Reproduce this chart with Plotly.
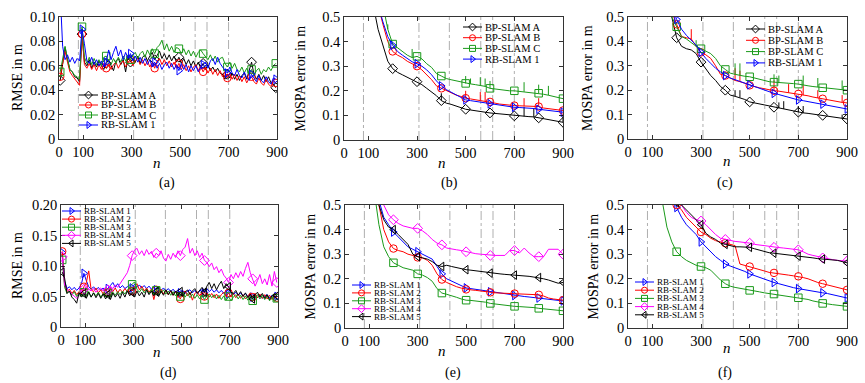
import plotly.graph_objects as go

W, H = 865, 383
SERIF = "Liberation Serif"

# ---------------- data ----------------
n_rmse = list(range(5, 900, 10))          # time steps for RMSE curves
n_mospa = list(range(100, 901, 20))       # time steps for MOSPA curves
event_n = [80, 308, 433, 562, 611, 700]   # dash-dot event markers
x_ticks = [0, 100, 300, 500, 700, 900]

# (a) RMSE
a_bp_a = [0.048, 0.061, 0.075, 0.065, 0.057, 0.055, 0.051, 0.050, 0.047, 0.086,
          0.063, 0.060, 0.065, 0.058, 0.063, 0.059, 0.064, 0.060, 0.057, 0.062,
          0.065, 0.060, 0.056, 0.064, 0.066, 0.061, 0.065, 0.055, 0.067, 0.063,
          0.066, 0.063, 0.068, 0.062, 0.067, 0.069, 0.064, 0.068, 0.071, 0.065,
          0.069, 0.072, 0.066, 0.070, 0.065, 0.069, 0.064, 0.068, 0.063, 0.067,
          0.062, 0.066, 0.061, 0.065, 0.060, 0.064, 0.059, 0.063, 0.058, 0.062,
          0.057, 0.061, 0.056, 0.059, 0.055, 0.058, 0.054, 0.053, 0.049, 0.053,
          0.050, 0.054, 0.049, 0.053, 0.048, 0.052, 0.054, 0.049, 0.056, 0.063,
          0.053, 0.049, 0.053, 0.048, 0.052, 0.047, 0.051, 0.046, 0.045, 0.042]
a_bp_b = [0.051, 0.063, 0.072, 0.063, 0.055, 0.052, 0.049, 0.047, 0.044, 0.086,
          0.061, 0.058, 0.062, 0.057, 0.061, 0.056, 0.061, 0.057, 0.062, 0.058,
          0.062, 0.057, 0.061, 0.063, 0.058, 0.062, 0.064, 0.059, 0.063, 0.065,
          0.060, 0.064, 0.066, 0.061, 0.065, 0.060, 0.064, 0.059, 0.063, 0.058,
          0.064, 0.066, 0.061, 0.065, 0.060, 0.064, 0.059, 0.063, 0.058, 0.062,
          0.057, 0.061, 0.056, 0.060, 0.055, 0.059, 0.061, 0.056, 0.060, 0.055,
          0.059, 0.054, 0.058, 0.053, 0.057, 0.052, 0.056, 0.051, 0.055, 0.050,
          0.054, 0.049, 0.053, 0.048, 0.052, 0.047, 0.051, 0.046, 0.050, 0.051,
          0.047, 0.045, 0.050, 0.046, 0.044, 0.049, 0.045, 0.043, 0.048, 0.046]
a_bp_c = [0.055, 0.065, 0.076, 0.066, 0.057, 0.055, 0.052, 0.051, 0.049, 0.092,
          0.067, 0.062, 0.067, 0.061, 0.066, 0.061, 0.065, 0.060, 0.067, 0.068,
          0.063, 0.061, 0.066, 0.062, 0.067, 0.063, 0.068, 0.064, 0.069, 0.065,
          0.069, 0.071, 0.066, 0.070, 0.072, 0.067, 0.073, 0.069, 0.074, 0.070,
          0.075, 0.077, 0.081, 0.073, 0.078, 0.072, 0.076, 0.071, 0.075, 0.074,
          0.070, 0.074, 0.069, 0.073, 0.068, 0.072, 0.067, 0.071, 0.073, 0.070,
          0.067, 0.065, 0.069, 0.064, 0.068, 0.063, 0.066, 0.067, 0.062, 0.059,
          0.063, 0.058, 0.062, 0.057, 0.055, 0.059, 0.054, 0.058, 0.053, 0.057,
          0.052, 0.056, 0.058, 0.053, 0.057, 0.055, 0.059, 0.056, 0.060, 0.062]
a_rb_1 = [0.120, 0.076, 0.065, 0.069, 0.063, 0.067, 0.062, 0.066, 0.064, 0.090,
          0.078, 0.064, 0.062, 0.067, 0.061, 0.065, 0.060, 0.064, 0.059, 0.063,
          0.073, 0.065, 0.071, 0.076, 0.068, 0.073, 0.065, 0.071, 0.066, 0.070,
          0.064, 0.068, 0.063, 0.067, 0.062, 0.066, 0.061, 0.065, 0.059, 0.063,
          0.058, 0.062, 0.057, 0.061, 0.063, 0.058, 0.062, 0.057, 0.061, 0.056,
          0.062, 0.057, 0.061, 0.055, 0.060, 0.056, 0.060, 0.055, 0.059, 0.061,
          0.063, 0.058, 0.064, 0.066, 0.061, 0.067, 0.062, 0.059, 0.056, 0.054,
          0.059, 0.054, 0.052, 0.057, 0.052, 0.050, 0.055, 0.050, 0.048, 0.053,
          0.050, 0.047, 0.052, 0.048, 0.046, 0.051, 0.047, 0.045, 0.050, 0.049]

# (d) RMSE
d_rb_1 = [0.122, 0.075, 0.063, 0.066, 0.061, 0.065, 0.060, 0.064, 0.071, 0.088,
          0.076, 0.066, 0.062, 0.066, 0.061, 0.065, 0.060, 0.064, 0.059, 0.063,
          0.068, 0.073, 0.065, 0.071, 0.064, 0.068, 0.063, 0.066, 0.069, 0.064,
          0.070, 0.065, 0.069, 0.064, 0.068, 0.063, 0.067, 0.062, 0.066, 0.061,
          0.065, 0.060, 0.064, 0.059, 0.063, 0.058, 0.062, 0.057, 0.061, 0.056,
          0.060, 0.055, 0.059, 0.061, 0.056, 0.060, 0.055, 0.059, 0.061, 0.056,
          0.063, 0.058, 0.062, 0.057, 0.061, 0.056, 0.060, 0.055, 0.059, 0.054,
          0.058, 0.053, 0.057, 0.052, 0.056, 0.051, 0.055, 0.050, 0.054, 0.049,
          0.053, 0.048, 0.052, 0.047, 0.051, 0.053, 0.048, 0.052, 0.047, 0.050]
d_rb_2 = [0.124, 0.070, 0.058, 0.062, 0.055, 0.060, 0.053, 0.058, 0.054, 0.066,
          0.073, 0.092, 0.061, 0.058, 0.064, 0.056, 0.061, 0.054, 0.062, 0.057,
          0.063, 0.058, 0.064, 0.056, 0.062, 0.057, 0.063, 0.058, 0.064, 0.059,
          0.066, 0.071, 0.061, 0.067, 0.059, 0.064, 0.057, 0.062, 0.045, 0.061,
          0.056, 0.062, 0.054, 0.060, 0.053, 0.059, 0.052, 0.058, 0.051, 0.046,
          0.056, 0.059, 0.051, 0.057, 0.044, 0.055, 0.058, 0.051, 0.057, 0.050,
          0.056, 0.049, 0.055, 0.048, 0.054, 0.047, 0.053, 0.057, 0.050, 0.056,
          0.049, 0.055, 0.048, 0.054, 0.047, 0.053, 0.046, 0.052, 0.056, 0.049,
          0.055, 0.048, 0.054, 0.047, 0.053, 0.046, 0.052, 0.045, 0.051, 0.048]
d_rb_3 = [0.110, 0.065, 0.055, 0.059, 0.052, 0.058, 0.050, 0.056, 0.051, 0.057,
          0.052, 0.058, 0.049, 0.056, 0.051, 0.057, 0.049, 0.055, 0.050, 0.056,
          0.051, 0.057, 0.052, 0.058, 0.053, 0.059, 0.054, 0.061, 0.066, 0.070,
          0.074, 0.062, 0.057, 0.063, 0.056, 0.062, 0.055, 0.061, 0.054, 0.060,
          0.066, 0.056, 0.061, 0.054, 0.059, 0.052, 0.058, 0.051, 0.057, 0.050,
          0.056, 0.049, 0.055, 0.048, 0.054, 0.047, 0.053, 0.046, 0.052, 0.045,
          0.051, 0.054, 0.048, 0.053, 0.046, 0.052, 0.045, 0.051, 0.044, 0.050,
          0.043, 0.049, 0.053, 0.046, 0.052, 0.045, 0.051, 0.044, 0.050, 0.043,
          0.049, 0.053, 0.046, 0.052, 0.045, 0.051, 0.043, 0.049, 0.042, 0.047]
d_rb_4 = [0.115, 0.068, 0.062, 0.059, 0.054, 0.050, 0.047, 0.053, 0.060, 0.062,
          0.066, 0.062, 0.059, 0.063, 0.057, 0.061, 0.064, 0.059, 0.065, 0.061,
          0.067, 0.063, 0.069, 0.065, 0.071, 0.076, 0.081, 0.089, 0.101, 0.117,
          0.126, 0.129, 0.119, 0.125, 0.117, 0.127, 0.119, 0.124, 0.114, 0.121,
          0.117, 0.125, 0.113, 0.108, 0.119, 0.111, 0.121, 0.114, 0.125, 0.117,
          0.127, 0.131, 0.145, 0.121, 0.129, 0.117, 0.125, 0.114, 0.121, 0.109,
          0.106, 0.099, 0.105, 0.094, 0.099, 0.089, 0.095, 0.085, 0.080, 0.073,
          0.086, 0.079, 0.089, 0.081, 0.091, 0.083, 0.096, 0.106, 0.089, 0.079,
          0.067, 0.076, 0.086, 0.071, 0.079, 0.069, 0.086, 0.067, 0.091, 0.073]
d_rb_5 = [0.090, 0.080, 0.055, 0.059, 0.049, 0.045, 0.039, 0.056, 0.049, 0.055,
          0.047, 0.057, 0.049, 0.056, 0.048, 0.055, 0.047, 0.054, 0.046, 0.053,
          0.045, 0.056, 0.049, 0.055, 0.047, 0.057, 0.049, 0.059, 0.051, 0.057,
          0.049, 0.059, 0.051, 0.057, 0.049, 0.061, 0.053, 0.059, 0.051, 0.058,
          0.050, 0.059, 0.052, 0.061, 0.053, 0.060, 0.052, 0.059, 0.051, 0.058,
          0.050, 0.057, 0.061, 0.053, 0.059, 0.063, 0.055, 0.061, 0.065, 0.057,
          0.067, 0.073, 0.063, 0.071, 0.061, 0.069, 0.075, 0.063, 0.071, 0.066,
          0.057, 0.055, 0.060, 0.052, 0.058, 0.050, 0.056, 0.048, 0.054, 0.046,
          0.053, 0.057, 0.049, 0.055, 0.047, 0.053, 0.045, 0.051, 0.055, 0.051]

# (b) MOSPA
b_bp_a = [0.70, 0.55, 0.45, 0.38, 0.32, 0.29, 0.275, 0.265, 0.255, 0.245,
          0.237, 0.225, 0.21, 0.195, 0.18, 0.16, 0.15, 0.145, 0.138, 0.13,
          0.125, 0.122, 0.12, 0.117, 0.113, 0.11, 0.108, 0.105, 0.102, 0.10,
          0.098, 0.097, 0.096, 0.095, 0.094, 0.09, 0.087, 0.083, 0.079, 0.075,
          0.072]
b_bp_b = [0.85, 0.68, 0.55, 0.47, 0.40, 0.36, 0.345, 0.335, 0.32, 0.31,
          0.30, 0.285, 0.265, 0.245, 0.22, 0.21, 0.20, 0.19, 0.183, 0.177,
          0.17, 0.167, 0.164, 0.162, 0.158, 0.155, 0.15, 0.146, 0.143, 0.141,
          0.14, 0.139, 0.138, 0.137, 0.137, 0.136, 0.13, 0.127, 0.124, 0.121,
          0.12]
b_bp_c = [0.95, 0.80, 0.66, 0.55, 0.45, 0.39, 0.375, 0.36, 0.345, 0.335,
          0.34, 0.33, 0.31, 0.295, 0.27, 0.26, 0.25, 0.245, 0.24, 0.235,
          0.23, 0.228, 0.225, 0.222, 0.218, 0.21, 0.207, 0.205, 0.203, 0.20,
          0.20, 0.198, 0.196, 0.194, 0.193, 0.19, 0.186, 0.182, 0.178, 0.172,
          0.168]
b_rb_1 = [0.85, 0.68, 0.55, 0.48, 0.42, 0.385, 0.36, 0.345, 0.33, 0.318,
          0.31, 0.30, 0.285, 0.265, 0.24, 0.22, 0.205, 0.195, 0.183, 0.172,
          0.163, 0.16, 0.157, 0.154, 0.15, 0.147, 0.143, 0.14, 0.137, 0.135,
          0.133, 0.132, 0.131, 0.13, 0.128, 0.125, 0.122, 0.12, 0.117, 0.115,
          0.113]
b_spike_a_n, b_spike_a_top = [400, 740, 780, 900], [0.19, 0.135, 0.13, 0.10]
b_spike_b_n, b_spike_b_top = [500, 560, 580, 740, 800], [0.20, 0.195, 0.195, 0.17, 0.17]
b_spike_c_n = [180, 280, 500, 520, 560, 580, 600, 740, 800, 840]
b_spike_c_top = [0.47, 0.37, 0.26, 0.25, 0.255, 0.25, 0.24, 0.235, 0.225, 0.22]

# (c) MOSPA
c_bp_a = [0.90, 0.80, 0.70, 0.58, 0.50, 0.415, 0.38, 0.37, 0.365, 0.35,
          0.315, 0.285, 0.26, 0.24, 0.215, 0.20, 0.18, 0.175, 0.17, 0.162,
          0.152, 0.148, 0.143, 0.14, 0.135, 0.13, 0.127, 0.123, 0.12, 0.115,
          0.11, 0.107, 0.105, 0.102, 0.10, 0.097, 0.095, 0.092, 0.088, 0.085,
          0.082]
c_bp_b = [0.95, 0.85, 0.75, 0.62, 0.52, 0.47, 0.42, 0.415, 0.41, 0.38,
          0.355, 0.345, 0.33, 0.30, 0.265, 0.26, 0.25, 0.24, 0.235, 0.228,
          0.22, 0.215, 0.21, 0.205, 0.20, 0.198, 0.196, 0.193, 0.19, 0.188,
          0.185, 0.18, 0.177, 0.172, 0.168, 0.165, 0.16, 0.157, 0.153, 0.15,
          0.148]
c_bp_c = [0.95, 0.85, 0.75, 0.62, 0.50, 0.46, 0.42, 0.41, 0.395, 0.38,
          0.37, 0.36, 0.35, 0.33, 0.30, 0.285, 0.27, 0.265, 0.26, 0.257,
          0.255, 0.25, 0.245, 0.238, 0.235, 0.233, 0.232, 0.23, 0.228, 0.227,
          0.225, 0.22, 0.218, 0.215, 0.213, 0.21, 0.21, 0.208, 0.205, 0.203,
          0.20]
c_rb_1 = [0.95, 0.85, 0.75, 0.65, 0.55, 0.49, 0.45, 0.425, 0.405, 0.385,
          0.355, 0.33, 0.31, 0.29, 0.275, 0.26, 0.25, 0.243, 0.237, 0.23,
          0.222, 0.215, 0.207, 0.20, 0.192, 0.187, 0.182, 0.176, 0.17, 0.165,
          0.16, 0.157, 0.153, 0.15, 0.147, 0.143, 0.139, 0.135, 0.131, 0.127,
          0.123]
c_spike_a_n, c_spike_a_top = [440, 460, 620, 640, 700, 720, 880], [0.20, 0.20, 0.15, 0.155, 0.135, 0.135, 0.10]
c_spike_b_n = [260, 440, 460, 600, 660, 720, 780, 880]
c_spike_b_top = [0.45, 0.29, 0.28, 0.24, 0.225, 0.22, 0.20, 0.18]
c_spike_c_n = [280, 440, 460, 600, 620, 720, 780, 880]
c_spike_c_top = [0.405, 0.31, 0.31, 0.265, 0.26, 0.26, 0.25, 0.24]

# (e) MOSPA
e_rb_1 = [0.80, 0.62, 0.52, 0.45, 0.42, 0.39, 0.37, 0.35, 0.33, 0.32,
          0.31, 0.30, 0.29, 0.28, 0.25, 0.22, 0.20, 0.19, 0.18, 0.17,
          0.163, 0.16, 0.157, 0.153, 0.15, 0.147, 0.143, 0.14, 0.138, 0.135,
          0.132, 0.13, 0.128, 0.126, 0.124, 0.122, 0.12, 0.118, 0.115, 0.113,
          0.11]
e_rb_2 = [0.80, 0.62, 0.50, 0.40, 0.35, 0.323, 0.315, 0.31, 0.30, 0.295,
          0.287, 0.285, 0.275, 0.255, 0.22, 0.197, 0.185, 0.175, 0.168, 0.162,
          0.157, 0.155, 0.153, 0.15, 0.148, 0.145, 0.143, 0.142, 0.141, 0.14,
          0.14, 0.139, 0.138, 0.137, 0.136, 0.135, 0.13, 0.122, 0.118, 0.115,
          0.113]
e_rb_3 = [0.75, 0.56, 0.42, 0.33, 0.29, 0.265, 0.255, 0.245, 0.24, 0.235,
          0.22, 0.215, 0.205, 0.19, 0.16, 0.142, 0.137, 0.132, 0.125, 0.118,
          0.113, 0.112, 0.11, 0.108, 0.105, 0.10, 0.097, 0.095, 0.093, 0.09,
          0.088, 0.087, 0.086, 0.085, 0.083, 0.08, 0.078, 0.077, 0.075, 0.073,
          0.07]
e_rb_4 = [0.85, 0.70, 0.60, 0.50, 0.46, 0.44, 0.425, 0.415, 0.41, 0.405,
          0.405, 0.395, 0.38, 0.36, 0.345, 0.338, 0.325, 0.32, 0.318, 0.315,
          0.31, 0.305, 0.302, 0.30, 0.298, 0.295, 0.295, 0.295, 0.295, 0.315,
          0.315, 0.305, 0.325, 0.305, 0.29, 0.29, 0.29, 0.32, 0.32, 0.32,
          0.30]
e_rb_5 = [0.85, 0.65, 0.50, 0.44, 0.41, 0.40, 0.38, 0.36, 0.34, 0.30,
          0.29, 0.285, 0.28, 0.27, 0.255, 0.25, 0.255, 0.25, 0.245, 0.24,
          0.237, 0.235, 0.232, 0.23, 0.226, 0.223, 0.222, 0.22, 0.218, 0.217,
          0.215, 0.214, 0.212, 0.21, 0.207, 0.205, 0.20, 0.195, 0.19, 0.182,
          0.185]

# (f) MOSPA
f_rb_1 = [0.95, 0.85, 0.75, 0.65, 0.55, 0.49, 0.45, 0.42, 0.40, 0.38,
          0.35, 0.33, 0.31, 0.29, 0.275, 0.26, 0.252, 0.245, 0.237, 0.23,
          0.22, 0.213, 0.205, 0.198, 0.19, 0.185, 0.18, 0.174, 0.168, 0.164,
          0.16, 0.156, 0.152, 0.149, 0.146, 0.143, 0.14, 0.135, 0.13, 0.126,
          0.122]
f_rb_2 = [0.95, 0.85, 0.75, 0.65, 0.55, 0.50, 0.48, 0.45, 0.43, 0.41,
          0.39, 0.38, 0.365, 0.355, 0.35, 0.345, 0.34, 0.335, 0.26, 0.255,
          0.25, 0.245, 0.24, 0.232, 0.226, 0.224, 0.222, 0.22, 0.215, 0.212,
          0.21, 0.205, 0.20, 0.192, 0.185, 0.18, 0.175, 0.17, 0.165, 0.16,
          0.155]
f_rb_3 = [0.90, 0.70, 0.52, 0.41, 0.35, 0.31, 0.29, 0.275, 0.265, 0.255,
          0.25, 0.245, 0.235, 0.215, 0.195, 0.18, 0.17, 0.165, 0.162, 0.158,
          0.153, 0.15, 0.147, 0.143, 0.14, 0.138, 0.135, 0.132, 0.13, 0.127,
          0.123, 0.12, 0.116, 0.11, 0.105, 0.10, 0.098, 0.095, 0.092, 0.09,
          0.088]
f_rb_4 = [0.99, 0.90, 0.80, 0.70, 0.60, 0.54, 0.50, 0.47, 0.45, 0.44,
          0.435, 0.42, 0.40, 0.38, 0.365, 0.36, 0.355, 0.352, 0.35, 0.348,
          0.345, 0.34, 0.337, 0.333, 0.33, 0.328, 0.327, 0.325, 0.323, 0.321,
          0.318, 0.31, 0.30, 0.295, 0.29, 0.285, 0.28, 0.278, 0.275, 0.273,
          0.272]
f_rb_5 = [0.99, 0.90, 0.80, 0.70, 0.60, 0.51, 0.50, 0.48, 0.46, 0.44,
          0.42, 0.385, 0.37, 0.36, 0.345, 0.34, 0.335, 0.33, 0.33, 0.33,
          0.328, 0.322, 0.316, 0.31, 0.306, 0.304, 0.302, 0.30, 0.298, 0.295,
          0.292, 0.29, 0.288, 0.285, 0.282, 0.28, 0.279, 0.278, 0.275, 0.27,
          0.265]

# ---------------- styling ----------------
BLACK, RED, GREEN, BLUE, MAGENTA = "#000000", "#ff0000", "#1a9a1a", "#0000ff", "#ff00ff"
EVENT_COLOR = "#a6a6a6"
rmse_marks = [0] + list(range(9, 90, 10))
mospa_marks = list(range(5, 41, 5))
MSIZE = 7.5


def S(name, n, y, color, symbol, marks, spk_n=None, spk_top=None):
    return dict(name=name, n=n, y=y, color=color, symbol=symbol, marks=marks,
                spk_n=spk_n or [], spk_top=spk_top or [])


def bp_set(n, ya, yb, yc, y1, marks, spk=None):
    spk = spk or [(None, None)] * 3
    return [
        S("BP-SLAM A", n, ya, BLACK, "diamond-open", marks, *spk[0]),
        S("BP-SLAM B", n, yb, RED, "circle-open", marks, *spk[1]),
        S("BP-SLAM C", n, yc, GREEN, "square-open", marks, *spk[2]),
        S("RB-SLAM 1", n, y1, BLUE, "triangle-right-open", marks),
    ]


def rb_set(n, y1, y2, y3, y4, y5, marks):
    return [
        S("RB-SLAM 1", n, y1, BLUE, "triangle-right-open", marks),
        S("RB-SLAM 2", n, y2, RED, "circle-open", marks),
        S("RB-SLAM 3", n, y3, GREEN, "square-open", marks),
        S("RB-SLAM 4", n, y4, MAGENTA, "diamond-open", marks),
        S("RB-SLAM 5", n, y5, BLACK, "triangle-left-open", marks),
    ]


mospa_ticks = [0, 0.1, 0.2, 0.3, 0.4, 0.5]
mospa_text = ["0", "0.1", "0.2", "0.3", "0.4", "0.5"]

panels = [
    dict(label="(a)", rect=(59, 17, 277, 139), yrange=[0, 0.1],
         yticks=[0, 0.02, 0.04, 0.06, 0.08, 0.1], ytext=["0", "0.02", "0.04", "0.06", "0.08", "0.10"],
         ytitle="RMSE in m", ytx=17, xt=(157, 163), lab=(167, 183),
         series=bp_set(n_rmse, a_bp_a, a_bp_b, a_bp_c, a_rb_1, rmse_marks),
         leg=(79, 95, 10, 10.5)),
    dict(label="(b)", rect=(344, 17, 563, 140), yrange=[0, 0.5],
         yticks=mospa_ticks, ytext=mospa_text,
         ytitle="MOSPA error in m", ytx=300, xt=(442, 163), lab=(450, 183),
         series=bp_set(n_mospa, b_bp_a, b_bp_b, b_bp_c, b_rb_1, mospa_marks,
                       [(b_spike_a_n, b_spike_a_top), (b_spike_b_n, b_spike_b_top),
                        (b_spike_c_n, b_spike_c_top)]),
         leg=(463, 27, 10.7, 10.5)),
    dict(label="(c)", rect=(628, 17, 847, 139), yrange=[0, 0.5],
         yticks=mospa_ticks, ytext=mospa_text,
         ytitle="MOSPA error in m", ytx=587, xt=(727, 161), lab=(725, 183),
         series=bp_set(n_mospa, c_bp_a, c_bp_b, c_bp_c, c_rb_1, mospa_marks,
                       [(c_spike_a_n, c_spike_a_top), (c_spike_b_n, c_spike_b_top),
                        (c_spike_c_n, c_spike_c_top)]),
         leg=(746, 29, 11.3, 10.5)),
    dict(label="(d)", rect=(61, 205, 278, 327), yrange=[0, 0.2],
         yticks=[0, 0.05, 0.1, 0.15, 0.2], ytext=["0", "0.05", "0.10", "0.15", "0.20"],
         ytitle="RMSE in m", ytx=17, xt=(157, 352), lab=(168, 373),
         series=rb_set(n_rmse, d_rb_1, d_rb_2, d_rb_3, d_rb_4, d_rb_5, rmse_marks),
         leg=(62, 211, 8.1, 9)),
    dict(label="(e)", rect=(345, 205, 563, 328), yrange=[0, 0.5],
         yticks=mospa_ticks, ytext=mospa_text,
         ytitle="MOSPA error in m", ytx=310, xt=(442, 351), lab=(453, 373),
         series=rb_set(n_mospa, e_rb_1, e_rb_2, e_rb_3, e_rb_4, e_rb_5, mospa_marks),
         leg=(352, 285, 7.9, 9)),
    dict(label="(f)", rect=(628, 205, 847, 328), yrange=[0, 0.5],
         yticks=mospa_ticks, ytext=mospa_text,
         ytitle="MOSPA error in m", ytx=593, xt=(727, 348), lab=(725, 373),
         series=rb_set(n_mospa, f_rb_1, f_rb_2, f_rb_3, f_rb_4, f_rb_5, mospa_marks),
         leg=(635, 282, 8.2, 9)),
]

fig = go.Figure()
layout = dict(width=W, height=H, margin=dict(l=0, r=0, t=0, b=0),
              paper_bgcolor="white", plot_bgcolor="rgba(0,0,0,0)",
              showlegend=False, font=dict(family=SERIF, size=14, color="black"))
shapes, annotations = [], []
LEG = len(panels) + 1


def ax_id(k):
    return "" if k == 1 else str(k)


for i, p in enumerate(panels, start=1):
    xa, ya = "x" + ax_id(i), "y" + ax_id(i)
    l, t, r, b = p["rect"]
    axis_common = dict(ticks="inside", ticklen=4, tickwidth=0.8, tickcolor="black",
                       showline=True, linecolor="black", linewidth=0.8, mirror="ticks",
                       showgrid=False, zeroline=False, fixedrange=True, automargin=False,
                       tickfont=dict(family=SERIF, size=14.5, color="black"))
    layout["xaxis" + ax_id(i)] = dict(domain=[l / W, r / W], range=[0, 900], tickvals=x_ticks,
                                      anchor=ya, **axis_common)
    layout["yaxis" + ax_id(i)] = dict(domain=[1 - b / H, 1 - t / H], range=p["yrange"],
                                      tickvals=p["yticks"], ticktext=p["ytext"], anchor=xa,
                                      **axis_common)
    for ev in event_n:
        shapes.append(dict(type="line", xref=xa, yref=f"{ya} domain", x0=ev, x1=ev, y0=0, y1=1,
                           line=dict(color=EVENT_COLOR, width=0.9, dash="dashdot"), layer="below"))
    for s in p["series"]:
        fig.add_trace(go.Scatter(x=s["n"], y=s["y"], mode="lines", xaxis=xa, yaxis=ya,
                                 line=dict(color=s["color"], width=1), hoverinfo="skip"))
        if s["spk_n"]:
            sx, sy = [], []
            for nn, top in zip(s["spk_n"], s["spk_top"]):
                base = s["y"][s["n"].index(nn)]
                sx += [nn, nn, None]
                sy += [base, top, None]
            fig.add_trace(go.Scatter(x=sx, y=sy, mode="lines", xaxis=xa, yaxis=ya,
                                     line=dict(color=s["color"], width=1), hoverinfo="skip"))
        fig.add_trace(go.Scatter(x=[s["n"][k] for k in s["marks"]], y=[s["y"][k] for k in s["marks"]],
                                 mode="markers", xaxis=xa, yaxis=ya, hoverinfo="skip",
                                 marker=dict(symbol=s["symbol"], size=MSIZE, color=s["color"],
                                             line=dict(width=1, color=s["color"]))))
    # compact legend drawn on a full-figure pixel overlay
    lx, ly, ldy, lfs = p["leg"]
    for j, s in enumerate(p["series"]):
        yy = ly + j * ldy
        fig.add_trace(go.Scatter(x=[lx, lx + 19], y=[yy, yy], mode="lines",
                                 xaxis=f"x{LEG}", yaxis=f"y{LEG}", hoverinfo="skip",
                                 line=dict(color=s["color"], width=1)))
        fig.add_trace(go.Scatter(x=[lx + 9.5], y=[yy], mode="markers",
                                 xaxis=f"x{LEG}", yaxis=f"y{LEG}", hoverinfo="skip",
                                 marker=dict(symbol=s["symbol"], size=6, color=s["color"],
                                             line=dict(width=1, color=s["color"]))))
        annotations.append(dict(x=(lx + 21) / W, y=1 - yy / H, xref="paper", yref="paper",
                                text=s["name"], showarrow=False, xanchor="left", yanchor="middle",
                                borderpad=0,
                                font=dict(family=SERIF, size=lfs, color="black")))
    annotations.append(dict(x=p["ytx"] / W, y=1 - (t + b) / 2 / H, xref="paper", yref="paper",
                            text=p["ytitle"], textangle=-90, showarrow=False,
                            xanchor="center", yanchor="middle",
                            font=dict(family=SERIF, size=14, color="black")))
    annotations.append(dict(x=p["xt"][0] / W, y=1 - p["xt"][1] / H, xref="paper", yref="paper",
                            text="<i>n</i>", showarrow=False, xanchor="center", yanchor="middle",
                            font=dict(family=SERIF, size=15, color="black")))
    annotations.append(dict(x=p["lab"][0] / W, y=1 - p["lab"][1] / H, xref="paper", yref="paper",
                            text=p["label"], showarrow=False, xanchor="center", yanchor="middle",
                            font=dict(family=SERIF, size=14, color="black")))

layout[f"xaxis{LEG}"] = dict(domain=[0, 1], range=[0, W], visible=False, fixedrange=True,
                             anchor=f"y{LEG}")
layout[f"yaxis{LEG}"] = dict(domain=[0, 1], range=[H, 0], visible=False, fixedrange=True,
                             anchor=f"x{LEG}")
layout["shapes"] = shapes
layout["annotations"] = annotations
fig.update_layout(**layout)
fig.write_html("out.html", config={"displayModeBar": False, "staticPlot": True},
               post_script="document.body.style.margin='0px';document.body.style.padding='0px';")
